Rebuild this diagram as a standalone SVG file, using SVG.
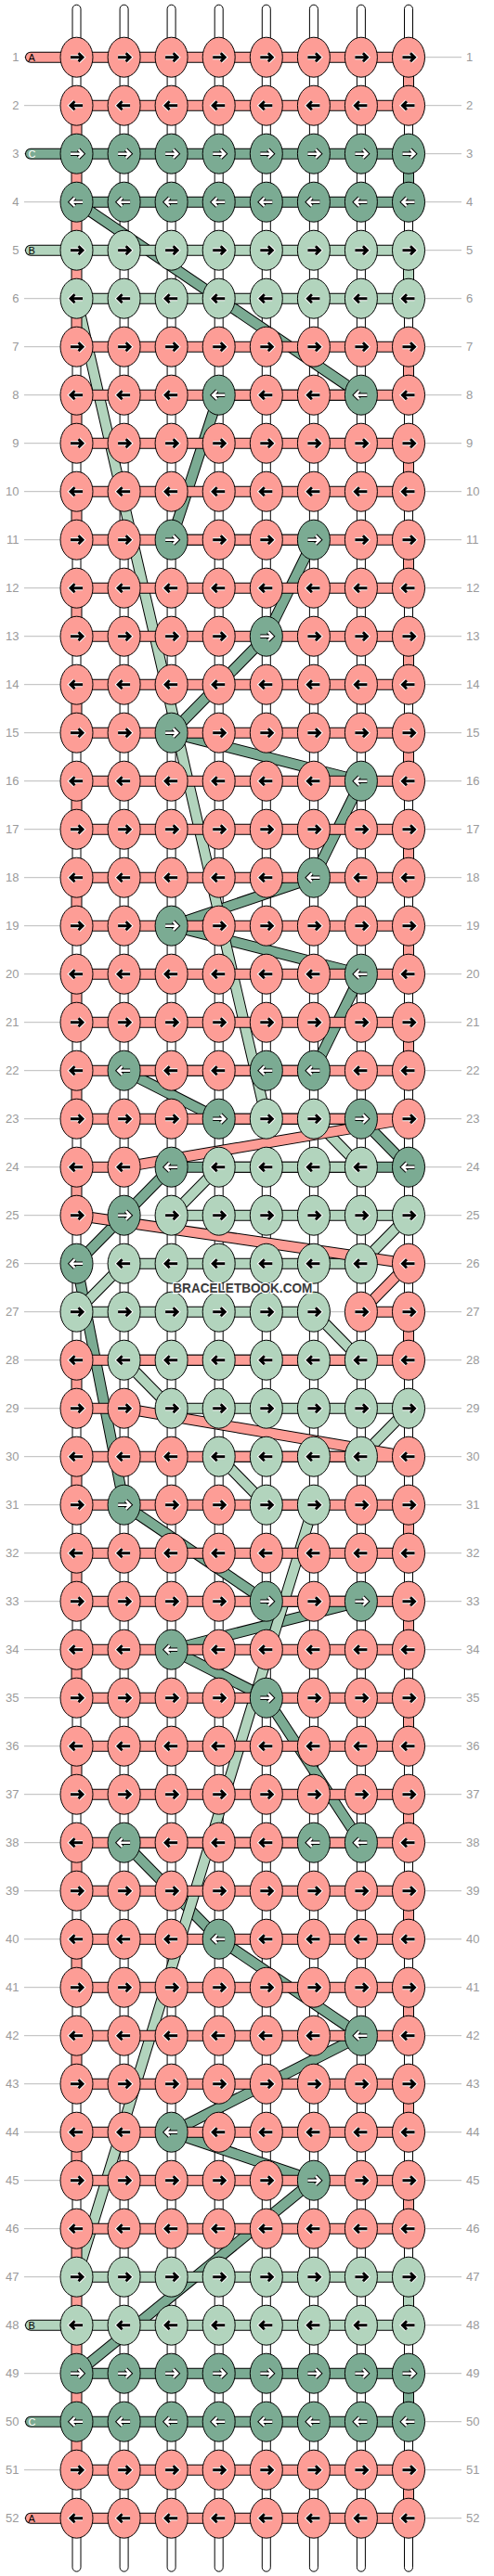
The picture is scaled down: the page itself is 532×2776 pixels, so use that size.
<svg xmlns="http://www.w3.org/2000/svg" xmlns:xlink="http://www.w3.org/1999/xlink" width="532" height="2776" viewBox="0 0 532 2776">
<style>
.gl{stroke:#bbb;stroke-width:1}
.ln{font-family:"Liberation Sans",Arial,sans-serif;font-size:13px;fill:#9a9a9a}
.lr{text-anchor:start}
.ll{text-anchor:end}
.str{fill:#fff;stroke:#000;stroke-width:1}
.o{fill:none;stroke:#000;stroke-width:12;stroke-linejoin:round;stroke-linecap:round}
.cA{fill:none;stroke:#FD9D96;stroke-width:10;stroke-linejoin:round;stroke-linecap:round}
.cB{fill:none;stroke:#B2D4BD;stroke-width:10;stroke-linejoin:round;stroke-linecap:round}
.cC{fill:none;stroke:#7BAB93;stroke-width:10;stroke-linejoin:round;stroke-linecap:round}
.pl{font-family:"Liberation Sans",Arial,sans-serif;font-size:11px}
.wm{font-family:"Liberation Sans",Arial,sans-serif;font-size:15px;font-weight:bold;fill:#3a3a3a;stroke:#fff;stroke-width:2.5;paint-order:stroke;text-anchor:middle}
</style>
<defs>
<path id="pr" d="M-6.5,0H6.5M2,-4.5L6.5,0L2,4.5" fill="none"/>
<path id="pl" d="M6.5,0H-6.5M-2,-4.5L-6.5,0L-2,4.5" fill="none"/>
<g id="sR"><ellipse rx="17.5" ry="21.5" fill="#FD9D96" stroke="#000"/><use href="#pr" stroke="#fff" stroke-width="5"/><use href="#pr" stroke="#000" stroke-width="3"/></g>
<g id="sL"><ellipse rx="17.5" ry="21.5" fill="#FD9D96" stroke="#000"/><use href="#pl" stroke="#fff" stroke-width="5"/><use href="#pl" stroke="#000" stroke-width="3"/></g>
<g id="lR"><ellipse rx="17.5" ry="21.5" fill="#B2D4BD" stroke="#000"/><use href="#pr" stroke="#fff" stroke-width="5"/><use href="#pr" stroke="#000" stroke-width="3"/></g>
<g id="lL"><ellipse rx="17.5" ry="21.5" fill="#B2D4BD" stroke="#000"/><use href="#pl" stroke="#fff" stroke-width="5"/><use href="#pl" stroke="#000" stroke-width="3"/></g>
<g id="dR"><ellipse rx="17.5" ry="21.5" fill="#7BAB93" stroke="#000"/><use href="#pr" stroke="#000" stroke-width="4.5"/><use href="#pr" stroke="#fff" stroke-width="2.5"/></g>
<g id="dL"><ellipse rx="17.5" ry="21.5" fill="#7BAB93" stroke="#000"/><use href="#pl" stroke="#000" stroke-width="4.5"/><use href="#pl" stroke="#fff" stroke-width="2.5"/></g>
<g id="gline"><line class="gl" x1="26" y1="0" x2="497" y2="0"/></g>
</defs>
<g transform="translate(0,9.7)">
<g id="guides">
<use href="#gline" y="52"/><use href="#gline" y="104"/><use href="#gline" y="156"/><use href="#gline" y="208"/><use href="#gline" y="260"/><use href="#gline" y="312"/><use href="#gline" y="364"/><use href="#gline" y="416"/><use href="#gline" y="468"/><use href="#gline" y="520"/><use href="#gline" y="572"/><use href="#gline" y="624"/><use href="#gline" y="676"/><use href="#gline" y="728"/><use href="#gline" y="780"/><use href="#gline" y="832"/><use href="#gline" y="884"/><use href="#gline" y="936"/><use href="#gline" y="988"/><use href="#gline" y="1040"/><use href="#gline" y="1092"/><use href="#gline" y="1144"/><use href="#gline" y="1196"/><use href="#gline" y="1248"/><use href="#gline" y="1300"/><use href="#gline" y="1352"/><use href="#gline" y="1404"/><use href="#gline" y="1456"/><use href="#gline" y="1508"/><use href="#gline" y="1560"/><use href="#gline" y="1612"/><use href="#gline" y="1664"/><use href="#gline" y="1716"/><use href="#gline" y="1768"/><use href="#gline" y="1820"/><use href="#gline" y="1872"/><use href="#gline" y="1924"/><use href="#gline" y="1976"/><use href="#gline" y="2028"/><use href="#gline" y="2080"/><use href="#gline" y="2132"/><use href="#gline" y="2184"/><use href="#gline" y="2236"/><use href="#gline" y="2288"/><use href="#gline" y="2340"/><use href="#gline" y="2392"/><use href="#gline" y="2444"/><use href="#gline" y="2496"/><use href="#gline" y="2548"/><use href="#gline" y="2600"/><use href="#gline" y="2652"/><use href="#gline" y="2704"/>
</g>
<g id="labels" class="ln">
<text class="ll" x="20.5" y="56.5">1</text><text class="lr" x="502" y="56.5">1</text>
<text class="ll" x="20.5" y="108.5">2</text><text class="lr" x="502" y="108.5">2</text>
<text class="ll" x="20.5" y="160.5">3</text><text class="lr" x="502" y="160.5">3</text>
<text class="ll" x="20.5" y="212.5">4</text><text class="lr" x="502" y="212.5">4</text>
<text class="ll" x="20.5" y="264.5">5</text><text class="lr" x="502" y="264.5">5</text>
<text class="ll" x="20.5" y="316.5">6</text><text class="lr" x="502" y="316.5">6</text>
<text class="ll" x="20.5" y="368.5">7</text><text class="lr" x="502" y="368.5">7</text>
<text class="ll" x="20.5" y="420.5">8</text><text class="lr" x="502" y="420.5">8</text>
<text class="ll" x="20.5" y="472.5">9</text><text class="lr" x="502" y="472.5">9</text>
<text class="ll" x="20.5" y="524.5">10</text><text class="lr" x="502" y="524.5">10</text>
<text class="ll" x="20.5" y="576.5">11</text><text class="lr" x="502" y="576.5">11</text>
<text class="ll" x="20.5" y="628.5">12</text><text class="lr" x="502" y="628.5">12</text>
<text class="ll" x="20.5" y="680.5">13</text><text class="lr" x="502" y="680.5">13</text>
<text class="ll" x="20.5" y="732.5">14</text><text class="lr" x="502" y="732.5">14</text>
<text class="ll" x="20.5" y="784.5">15</text><text class="lr" x="502" y="784.5">15</text>
<text class="ll" x="20.5" y="836.5">16</text><text class="lr" x="502" y="836.5">16</text>
<text class="ll" x="20.5" y="888.5">17</text><text class="lr" x="502" y="888.5">17</text>
<text class="ll" x="20.5" y="940.5">18</text><text class="lr" x="502" y="940.5">18</text>
<text class="ll" x="20.5" y="992.5">19</text><text class="lr" x="502" y="992.5">19</text>
<text class="ll" x="20.5" y="1044.5">20</text><text class="lr" x="502" y="1044.5">20</text>
<text class="ll" x="20.5" y="1096.5">21</text><text class="lr" x="502" y="1096.5">21</text>
<text class="ll" x="20.5" y="1148.5">22</text><text class="lr" x="502" y="1148.5">22</text>
<text class="ll" x="20.5" y="1200.5">23</text><text class="lr" x="502" y="1200.5">23</text>
<text class="ll" x="20.5" y="1252.5">24</text><text class="lr" x="502" y="1252.5">24</text>
<text class="ll" x="20.5" y="1304.5">25</text><text class="lr" x="502" y="1304.5">25</text>
<text class="ll" x="20.5" y="1356.5">26</text><text class="lr" x="502" y="1356.5">26</text>
<text class="ll" x="20.5" y="1408.5">27</text><text class="lr" x="502" y="1408.5">27</text>
<text class="ll" x="20.5" y="1460.5">28</text><text class="lr" x="502" y="1460.5">28</text>
<text class="ll" x="20.5" y="1512.5">29</text><text class="lr" x="502" y="1512.5">29</text>
<text class="ll" x="20.5" y="1564.5">30</text><text class="lr" x="502" y="1564.5">30</text>
<text class="ll" x="20.5" y="1616.5">31</text><text class="lr" x="502" y="1616.5">31</text>
<text class="ll" x="20.5" y="1668.5">32</text><text class="lr" x="502" y="1668.5">32</text>
<text class="ll" x="20.5" y="1720.5">33</text><text class="lr" x="502" y="1720.5">33</text>
<text class="ll" x="20.5" y="1772.5">34</text><text class="lr" x="502" y="1772.5">34</text>
<text class="ll" x="20.5" y="1824.5">35</text><text class="lr" x="502" y="1824.5">35</text>
<text class="ll" x="20.5" y="1876.5">36</text><text class="lr" x="502" y="1876.5">36</text>
<text class="ll" x="20.5" y="1928.5">37</text><text class="lr" x="502" y="1928.5">37</text>
<text class="ll" x="20.5" y="1980.5">38</text><text class="lr" x="502" y="1980.5">38</text>
<text class="ll" x="20.5" y="2032.5">39</text><text class="lr" x="502" y="2032.5">39</text>
<text class="ll" x="20.5" y="2084.5">40</text><text class="lr" x="502" y="2084.5">40</text>
<text class="ll" x="20.5" y="2136.5">41</text><text class="lr" x="502" y="2136.5">41</text>
<text class="ll" x="20.5" y="2188.5">42</text><text class="lr" x="502" y="2188.5">42</text>
<text class="ll" x="20.5" y="2240.5">43</text><text class="lr" x="502" y="2240.5">43</text>
<text class="ll" x="20.5" y="2292.5">44</text><text class="lr" x="502" y="2292.5">44</text>
<text class="ll" x="20.5" y="2344.5">45</text><text class="lr" x="502" y="2344.5">45</text>
<text class="ll" x="20.5" y="2396.5">46</text><text class="lr" x="502" y="2396.5">46</text>
<text class="ll" x="20.5" y="2448.5">47</text><text class="lr" x="502" y="2448.5">47</text>
<text class="ll" x="20.5" y="2500.5">48</text><text class="lr" x="502" y="2500.5">48</text>
<text class="ll" x="20.5" y="2552.5">49</text><text class="lr" x="502" y="2552.5">49</text>
<text class="ll" x="20.5" y="2604.5">50</text><text class="lr" x="502" y="2604.5">50</text>
<text class="ll" x="20.5" y="2656.5">51</text><text class="lr" x="502" y="2656.5">51</text>
<text class="ll" x="20.5" y="2708.5">52</text><text class="lr" x="502" y="2708.5">52</text>
</g>
<g id="strings">
<rect class="str" x="78" y="-4.5" width="9" height="2766" rx="4.5"/>
<rect class="str" x="129.1" y="-4.5" width="9" height="2766" rx="4.5"/>
<rect class="str" x="180.1" y="-4.5" width="9" height="2766" rx="4.5"/>
<rect class="str" x="231.2" y="-4.5" width="9" height="2766" rx="4.5"/>
<rect class="str" x="282.3" y="-4.5" width="9" height="2766" rx="4.5"/>
<rect class="str" x="333.4" y="-4.5" width="9" height="2766" rx="4.5"/>
<rect class="str" x="384.4" y="-4.5" width="9" height="2766" rx="4.5"/>
<rect class="str" x="435.5" y="-4.5" width="9" height="2766" rx="4.5"/>
</g>
<g id="connectors">
<g id="strandC">
<polyline class="o" points="33,156 440,156 440,208 82.5,208 388.9,416 235.7,416 184.6,572 337.9,572 286.8,676 184.6,780 388.9,832 337.9,936 184.6,988 388.9,1040 337.9,1144 133.6,1144 235.7,1196 388.9,1196 440,1248 184.6,1248 133.6,1300 82.5,1352 133.6,1612 286.8,1716 388.9,1716 184.6,1768 286.8,1820 388.9,1976 133.6,1976 235.7,2080 388.9,2184 184.6,2288 337.9,2340 82.5,2548 440,2548 440,2600 33,2600"/>
<polyline class="cC" points="33,156 440,156 440,208 82.5,208 388.9,416 235.7,416 184.6,572 337.9,572 286.8,676 184.6,780 388.9,832 337.9,936 184.6,988 388.9,1040 337.9,1144 133.6,1144 235.7,1196 388.9,1196 440,1248 184.6,1248 133.6,1300 82.5,1352 133.6,1612 286.8,1716 388.9,1716 184.6,1768 286.8,1820 388.9,1976 133.6,1976 235.7,2080 388.9,2184 184.6,2288 337.9,2340 82.5,2548 440,2548 440,2600 33,2600"/>
</g>
<g id="strandB">
<polyline class="o" points="33,260 440,260 440,312 82.5,312 286.8,1196 337.9,1196 388.9,1248 235.7,1248 184.6,1300 440,1300 388.9,1352 133.6,1352 82.5,1404 337.9,1404 388.9,1456 133.6,1456 184.6,1508 440,1508 388.9,1560 235.7,1560 286.8,1612 337.9,1612 82.5,2444 440,2444 440,2496 33,2496"/>
<polyline class="cB" points="33,260 440,260 440,312 82.5,312 286.8,1196 337.9,1196 388.9,1248 235.7,1248 184.6,1300 440,1300 388.9,1352 133.6,1352 82.5,1404 337.9,1404 388.9,1456 133.6,1456 184.6,1508 440,1508 388.9,1560 235.7,1560 286.8,1612 337.9,1612 82.5,2444 440,2444 440,2496 33,2496"/>
</g>
<g id="strandA">
<polyline class="o" points="33,52 440,52 440,104 82.5,104 82.5,364 440,364 440,416 82.5,416 82.5,468 440,468 440,520 82.5,520 82.5,572 440,572 440,624 82.5,624 82.5,676 440,676 440,728 82.5,728 82.5,780 440,780 440,832 82.5,832 82.5,884 440,884 440,936 82.5,936 82.5,988 440,988 440,1040 82.5,1040 82.5,1092 440,1092 440,1144 82.5,1144 82.5,1196 440,1196 133.6,1248 82.5,1248 82.5,1300 440,1352 388.9,1404 440,1404 440,1456 82.5,1456 82.5,1508 133.6,1508 440,1560 82.5,1560 82.5,1612 440,1612 440,1664 82.5,1664 82.5,1716 440,1716 440,1768 82.5,1768 82.5,1820 440,1820 440,1872 82.5,1872 82.5,1924 440,1924 440,1976 82.5,1976 82.5,2028 440,2028 440,2080 82.5,2080 82.5,2132 440,2132 440,2184 82.5,2184 82.5,2236 440,2236 440,2288 82.5,2288 82.5,2340 440,2340 440,2392 82.5,2392 82.5,2652 440,2652 440,2704 33,2704"/>
<polyline class="cA" points="33,52 440,52 440,104 82.5,104 82.5,364 440,364 440,416 82.5,416 82.5,468 440,468 440,520 82.5,520 82.5,572 440,572 440,624 82.5,624 82.5,676 440,676 440,728 82.5,728 82.5,780 440,780 440,832 82.5,832 82.5,884 440,884 440,936 82.5,936 82.5,988 440,988 440,1040 82.5,1040 82.5,1092 440,1092 440,1144 82.5,1144 82.5,1196 440,1196 133.6,1248 82.5,1248 82.5,1300 440,1352 388.9,1404 440,1404 440,1456 82.5,1456 82.5,1508 133.6,1508 440,1560 82.5,1560 82.5,1612 440,1612 440,1664 82.5,1664 82.5,1716 440,1716 440,1768 82.5,1768 82.5,1820 440,1820 440,1872 82.5,1872 82.5,1924 440,1924 440,1976 82.5,1976 82.5,2028 440,2028 440,2080 82.5,2080 82.5,2132 440,2132 440,2184 82.5,2184 82.5,2236 440,2236 440,2288 82.5,2288 82.5,2340 440,2340 440,2392 82.5,2392 82.5,2652 440,2652 440,2704 33,2704"/>
</g>
</g>
<g id="pills" class="pl">
<text x="30.5" y="56">A</text>
<text x="30.5" y="160" fill="#fff">C</text>
<text x="30.5" y="264">B</text>
<text x="30.5" y="2500">B</text>
<text x="30.5" y="2604" fill="#fff">C</text>
<text x="30.5" y="2708">A</text>
</g>
<g id="knots">
<g id="row1"><use id="k1_1" href="#sR" x="82.5" y="52"/><use id="k1_2" href="#sR" x="133.6" y="52"/><use id="k1_3" href="#sR" x="184.6" y="52"/><use id="k1_4" href="#sR" x="235.7" y="52"/><use id="k1_5" href="#sR" x="286.8" y="52"/><use id="k1_6" href="#sR" x="337.9" y="52"/><use id="k1_7" href="#sR" x="388.9" y="52"/><use id="k1_8" href="#sR" x="440" y="52"/></g>
<g id="row2"><use id="k2_1" href="#sL" x="82.5" y="104"/><use id="k2_2" href="#sL" x="133.6" y="104"/><use id="k2_3" href="#sL" x="184.6" y="104"/><use id="k2_4" href="#sL" x="235.7" y="104"/><use id="k2_5" href="#sL" x="286.8" y="104"/><use id="k2_6" href="#sL" x="337.9" y="104"/><use id="k2_7" href="#sL" x="388.9" y="104"/><use id="k2_8" href="#sL" x="440" y="104"/></g>
<g id="row3"><use id="k3_1" href="#dR" x="82.5" y="156"/><use id="k3_2" href="#dR" x="133.6" y="156"/><use id="k3_3" href="#dR" x="184.6" y="156"/><use id="k3_4" href="#dR" x="235.7" y="156"/><use id="k3_5" href="#dR" x="286.8" y="156"/><use id="k3_6" href="#dR" x="337.9" y="156"/><use id="k3_7" href="#dR" x="388.9" y="156"/><use id="k3_8" href="#dR" x="440" y="156"/></g>
<g id="row4"><use id="k4_1" href="#dL" x="82.5" y="208"/><use id="k4_2" href="#dL" x="133.6" y="208"/><use id="k4_3" href="#dL" x="184.6" y="208"/><use id="k4_4" href="#dL" x="235.7" y="208"/><use id="k4_5" href="#dL" x="286.8" y="208"/><use id="k4_6" href="#dL" x="337.9" y="208"/><use id="k4_7" href="#dL" x="388.9" y="208"/><use id="k4_8" href="#dL" x="440" y="208"/></g>
<g id="row5"><use id="k5_1" href="#lR" x="82.5" y="260"/><use id="k5_2" href="#lR" x="133.6" y="260"/><use id="k5_3" href="#lR" x="184.6" y="260"/><use id="k5_4" href="#lR" x="235.7" y="260"/><use id="k5_5" href="#lR" x="286.8" y="260"/><use id="k5_6" href="#lR" x="337.9" y="260"/><use id="k5_7" href="#lR" x="388.9" y="260"/><use id="k5_8" href="#lR" x="440" y="260"/></g>
<g id="row6"><use id="k6_1" href="#lL" x="82.5" y="312"/><use id="k6_2" href="#lL" x="133.6" y="312"/><use id="k6_3" href="#lL" x="184.6" y="312"/><use id="k6_4" href="#lL" x="235.7" y="312"/><use id="k6_5" href="#lL" x="286.8" y="312"/><use id="k6_6" href="#lL" x="337.9" y="312"/><use id="k6_7" href="#lL" x="388.9" y="312"/><use id="k6_8" href="#lL" x="440" y="312"/></g>
<g id="row7"><use id="k7_1" href="#sR" x="82.5" y="364"/><use id="k7_2" href="#sR" x="133.6" y="364"/><use id="k7_3" href="#sR" x="184.6" y="364"/><use id="k7_4" href="#sR" x="235.7" y="364"/><use id="k7_5" href="#sR" x="286.8" y="364"/><use id="k7_6" href="#sR" x="337.9" y="364"/><use id="k7_7" href="#sR" x="388.9" y="364"/><use id="k7_8" href="#sR" x="440" y="364"/></g>
<g id="row8"><use id="k8_1" href="#sL" x="82.5" y="416"/><use id="k8_2" href="#sL" x="133.6" y="416"/><use id="k8_3" href="#sL" x="184.6" y="416"/><use id="k8_4" href="#dL" x="235.7" y="416"/><use id="k8_5" href="#sL" x="286.8" y="416"/><use id="k8_6" href="#sL" x="337.9" y="416"/><use id="k8_7" href="#dL" x="388.9" y="416"/><use id="k8_8" href="#sL" x="440" y="416"/></g>
<g id="row9"><use id="k9_1" href="#sR" x="82.5" y="468"/><use id="k9_2" href="#sR" x="133.6" y="468"/><use id="k9_3" href="#sR" x="184.6" y="468"/><use id="k9_4" href="#sR" x="235.7" y="468"/><use id="k9_5" href="#sR" x="286.8" y="468"/><use id="k9_6" href="#sR" x="337.9" y="468"/><use id="k9_7" href="#sR" x="388.9" y="468"/><use id="k9_8" href="#sR" x="440" y="468"/></g>
<g id="row10"><use id="k10_1" href="#sL" x="82.5" y="520"/><use id="k10_2" href="#sL" x="133.6" y="520"/><use id="k10_3" href="#sL" x="184.6" y="520"/><use id="k10_4" href="#sL" x="235.7" y="520"/><use id="k10_5" href="#sL" x="286.8" y="520"/><use id="k10_6" href="#sL" x="337.9" y="520"/><use id="k10_7" href="#sL" x="388.9" y="520"/><use id="k10_8" href="#sL" x="440" y="520"/></g>
<g id="row11"><use id="k11_1" href="#sR" x="82.5" y="572"/><use id="k11_2" href="#sR" x="133.6" y="572"/><use id="k11_3" href="#dR" x="184.6" y="572"/><use id="k11_4" href="#sR" x="235.7" y="572"/><use id="k11_5" href="#sR" x="286.8" y="572"/><use id="k11_6" href="#dR" x="337.9" y="572"/><use id="k11_7" href="#sR" x="388.9" y="572"/><use id="k11_8" href="#sR" x="440" y="572"/></g>
<g id="row12"><use id="k12_1" href="#sL" x="82.5" y="624"/><use id="k12_2" href="#sL" x="133.6" y="624"/><use id="k12_3" href="#sL" x="184.6" y="624"/><use id="k12_4" href="#sL" x="235.7" y="624"/><use id="k12_5" href="#sL" x="286.8" y="624"/><use id="k12_6" href="#sL" x="337.9" y="624"/><use id="k12_7" href="#sL" x="388.9" y="624"/><use id="k12_8" href="#sL" x="440" y="624"/></g>
<g id="row13"><use id="k13_1" href="#sR" x="82.5" y="676"/><use id="k13_2" href="#sR" x="133.6" y="676"/><use id="k13_3" href="#sR" x="184.6" y="676"/><use id="k13_4" href="#sR" x="235.7" y="676"/><use id="k13_5" href="#dR" x="286.8" y="676"/><use id="k13_6" href="#sR" x="337.9" y="676"/><use id="k13_7" href="#sR" x="388.9" y="676"/><use id="k13_8" href="#sR" x="440" y="676"/></g>
<g id="row14"><use id="k14_1" href="#sL" x="82.5" y="728"/><use id="k14_2" href="#sL" x="133.6" y="728"/><use id="k14_3" href="#sL" x="184.6" y="728"/><use id="k14_4" href="#sL" x="235.7" y="728"/><use id="k14_5" href="#sL" x="286.8" y="728"/><use id="k14_6" href="#sL" x="337.9" y="728"/><use id="k14_7" href="#sL" x="388.9" y="728"/><use id="k14_8" href="#sL" x="440" y="728"/></g>
<g id="row15"><use id="k15_1" href="#sR" x="82.5" y="780"/><use id="k15_2" href="#sR" x="133.6" y="780"/><use id="k15_3" href="#dR" x="184.6" y="780"/><use id="k15_4" href="#sR" x="235.7" y="780"/><use id="k15_5" href="#sR" x="286.8" y="780"/><use id="k15_6" href="#sR" x="337.9" y="780"/><use id="k15_7" href="#sR" x="388.9" y="780"/><use id="k15_8" href="#sR" x="440" y="780"/></g>
<g id="row16"><use id="k16_1" href="#sL" x="82.5" y="832"/><use id="k16_2" href="#sL" x="133.6" y="832"/><use id="k16_3" href="#sL" x="184.6" y="832"/><use id="k16_4" href="#sL" x="235.7" y="832"/><use id="k16_5" href="#sL" x="286.8" y="832"/><use id="k16_6" href="#sL" x="337.9" y="832"/><use id="k16_7" href="#dL" x="388.9" y="832"/><use id="k16_8" href="#sL" x="440" y="832"/></g>
<g id="row17"><use id="k17_1" href="#sR" x="82.5" y="884"/><use id="k17_2" href="#sR" x="133.6" y="884"/><use id="k17_3" href="#sR" x="184.6" y="884"/><use id="k17_4" href="#sR" x="235.7" y="884"/><use id="k17_5" href="#sR" x="286.8" y="884"/><use id="k17_6" href="#sR" x="337.9" y="884"/><use id="k17_7" href="#sR" x="388.9" y="884"/><use id="k17_8" href="#sR" x="440" y="884"/></g>
<g id="row18"><use id="k18_1" href="#sL" x="82.5" y="936"/><use id="k18_2" href="#sL" x="133.6" y="936"/><use id="k18_3" href="#sL" x="184.6" y="936"/><use id="k18_4" href="#sL" x="235.7" y="936"/><use id="k18_5" href="#sL" x="286.8" y="936"/><use id="k18_6" href="#dL" x="337.9" y="936"/><use id="k18_7" href="#sL" x="388.9" y="936"/><use id="k18_8" href="#sL" x="440" y="936"/></g>
<g id="row19"><use id="k19_1" href="#sR" x="82.5" y="988"/><use id="k19_2" href="#sR" x="133.6" y="988"/><use id="k19_3" href="#dR" x="184.6" y="988"/><use id="k19_4" href="#sR" x="235.7" y="988"/><use id="k19_5" href="#sR" x="286.8" y="988"/><use id="k19_6" href="#sR" x="337.9" y="988"/><use id="k19_7" href="#sR" x="388.9" y="988"/><use id="k19_8" href="#sR" x="440" y="988"/></g>
<g id="row20"><use id="k20_1" href="#sL" x="82.5" y="1040"/><use id="k20_2" href="#sL" x="133.6" y="1040"/><use id="k20_3" href="#sL" x="184.6" y="1040"/><use id="k20_4" href="#sL" x="235.7" y="1040"/><use id="k20_5" href="#sL" x="286.8" y="1040"/><use id="k20_6" href="#sL" x="337.9" y="1040"/><use id="k20_7" href="#dL" x="388.9" y="1040"/><use id="k20_8" href="#sL" x="440" y="1040"/></g>
<g id="row21"><use id="k21_1" href="#sR" x="82.5" y="1092"/><use id="k21_2" href="#sR" x="133.6" y="1092"/><use id="k21_3" href="#sR" x="184.6" y="1092"/><use id="k21_4" href="#sR" x="235.7" y="1092"/><use id="k21_5" href="#sR" x="286.8" y="1092"/><use id="k21_6" href="#sR" x="337.9" y="1092"/><use id="k21_7" href="#sR" x="388.9" y="1092"/><use id="k21_8" href="#sR" x="440" y="1092"/></g>
<g id="row22"><use id="k22_1" href="#sL" x="82.5" y="1144"/><use id="k22_2" href="#dL" x="133.6" y="1144"/><use id="k22_3" href="#sL" x="184.6" y="1144"/><use id="k22_4" href="#sL" x="235.7" y="1144"/><use id="k22_5" href="#dL" x="286.8" y="1144"/><use id="k22_6" href="#dL" x="337.9" y="1144"/><use id="k22_7" href="#sL" x="388.9" y="1144"/><use id="k22_8" href="#sL" x="440" y="1144"/></g>
<g id="row23"><use id="k23_1" href="#sR" x="82.5" y="1196"/><use id="k23_2" href="#sR" x="133.6" y="1196"/><use id="k23_3" href="#sR" x="184.6" y="1196"/><use id="k23_4" href="#dR" x="235.7" y="1196"/><use id="k23_5" href="#lR" x="286.8" y="1196"/><use id="k23_6" href="#lR" x="337.9" y="1196"/><use id="k23_7" href="#dR" x="388.9" y="1196"/><use id="k23_8" href="#sR" x="440" y="1196"/></g>
<g id="row24"><use id="k24_1" href="#sL" x="82.5" y="1248"/><use id="k24_2" href="#sL" x="133.6" y="1248"/><use id="k24_3" href="#dL" x="184.6" y="1248"/><use id="k24_4" href="#lL" x="235.7" y="1248"/><use id="k24_5" href="#lL" x="286.8" y="1248"/><use id="k24_6" href="#lL" x="337.9" y="1248"/><use id="k24_7" href="#lL" x="388.9" y="1248"/><use id="k24_8" href="#dL" x="440" y="1248"/></g>
<g id="row25"><use id="k25_1" href="#sR" x="82.5" y="1300"/><use id="k25_2" href="#dR" x="133.6" y="1300"/><use id="k25_3" href="#lR" x="184.6" y="1300"/><use id="k25_4" href="#lR" x="235.7" y="1300"/><use id="k25_5" href="#lR" x="286.8" y="1300"/><use id="k25_6" href="#lR" x="337.9" y="1300"/><use id="k25_7" href="#lR" x="388.9" y="1300"/><use id="k25_8" href="#lR" x="440" y="1300"/></g>
<g id="row26"><use id="k26_1" href="#dL" x="82.5" y="1352"/><use id="k26_2" href="#lL" x="133.6" y="1352"/><use id="k26_3" href="#lL" x="184.6" y="1352"/><use id="k26_4" href="#lL" x="235.7" y="1352"/><use id="k26_5" href="#lL" x="286.8" y="1352"/><use id="k26_6" href="#lL" x="337.9" y="1352"/><use id="k26_7" href="#lL" x="388.9" y="1352"/><use id="k26_8" href="#sL" x="440" y="1352"/></g>
<g id="row27"><use id="k27_1" href="#lR" x="82.5" y="1404"/><use id="k27_2" href="#lR" x="133.6" y="1404"/><use id="k27_3" href="#lR" x="184.6" y="1404"/><use id="k27_4" href="#lR" x="235.7" y="1404"/><use id="k27_5" href="#lR" x="286.8" y="1404"/><use id="k27_6" href="#lR" x="337.9" y="1404"/><use id="k27_7" href="#sR" x="388.9" y="1404"/><use id="k27_8" href="#sR" x="440" y="1404"/></g>
<g id="row28"><use id="k28_1" href="#sL" x="82.5" y="1456"/><use id="k28_2" href="#lL" x="133.6" y="1456"/><use id="k28_3" href="#lL" x="184.6" y="1456"/><use id="k28_4" href="#lL" x="235.7" y="1456"/><use id="k28_5" href="#lL" x="286.8" y="1456"/><use id="k28_6" href="#lL" x="337.9" y="1456"/><use id="k28_7" href="#lL" x="388.9" y="1456"/><use id="k28_8" href="#sL" x="440" y="1456"/></g>
<g id="row29"><use id="k29_1" href="#sR" x="82.5" y="1508"/><use id="k29_2" href="#sR" x="133.6" y="1508"/><use id="k29_3" href="#lR" x="184.6" y="1508"/><use id="k29_4" href="#lR" x="235.7" y="1508"/><use id="k29_5" href="#lR" x="286.8" y="1508"/><use id="k29_6" href="#lR" x="337.9" y="1508"/><use id="k29_7" href="#lR" x="388.9" y="1508"/><use id="k29_8" href="#lR" x="440" y="1508"/></g>
<g id="row30"><use id="k30_1" href="#sL" x="82.5" y="1560"/><use id="k30_2" href="#sL" x="133.6" y="1560"/><use id="k30_3" href="#sL" x="184.6" y="1560"/><use id="k30_4" href="#lL" x="235.7" y="1560"/><use id="k30_5" href="#lL" x="286.8" y="1560"/><use id="k30_6" href="#lL" x="337.9" y="1560"/><use id="k30_7" href="#lL" x="388.9" y="1560"/><use id="k30_8" href="#sL" x="440" y="1560"/></g>
<g id="row31"><use id="k31_1" href="#sR" x="82.5" y="1612"/><use id="k31_2" href="#dR" x="133.6" y="1612"/><use id="k31_3" href="#sR" x="184.6" y="1612"/><use id="k31_4" href="#sR" x="235.7" y="1612"/><use id="k31_5" href="#lR" x="286.8" y="1612"/><use id="k31_6" href="#lR" x="337.9" y="1612"/><use id="k31_7" href="#sR" x="388.9" y="1612"/><use id="k31_8" href="#sR" x="440" y="1612"/></g>
<g id="row32"><use id="k32_1" href="#sL" x="82.5" y="1664"/><use id="k32_2" href="#sL" x="133.6" y="1664"/><use id="k32_3" href="#sL" x="184.6" y="1664"/><use id="k32_4" href="#sL" x="235.7" y="1664"/><use id="k32_5" href="#sL" x="286.8" y="1664"/><use id="k32_6" href="#sL" x="337.9" y="1664"/><use id="k32_7" href="#sL" x="388.9" y="1664"/><use id="k32_8" href="#sL" x="440" y="1664"/></g>
<g id="row33"><use id="k33_1" href="#sR" x="82.5" y="1716"/><use id="k33_2" href="#sR" x="133.6" y="1716"/><use id="k33_3" href="#sR" x="184.6" y="1716"/><use id="k33_4" href="#sR" x="235.7" y="1716"/><use id="k33_5" href="#dR" x="286.8" y="1716"/><use id="k33_6" href="#sR" x="337.9" y="1716"/><use id="k33_7" href="#dR" x="388.9" y="1716"/><use id="k33_8" href="#sR" x="440" y="1716"/></g>
<g id="row34"><use id="k34_1" href="#sL" x="82.5" y="1768"/><use id="k34_2" href="#sL" x="133.6" y="1768"/><use id="k34_3" href="#dL" x="184.6" y="1768"/><use id="k34_4" href="#sL" x="235.7" y="1768"/><use id="k34_5" href="#sL" x="286.8" y="1768"/><use id="k34_6" href="#sL" x="337.9" y="1768"/><use id="k34_7" href="#sL" x="388.9" y="1768"/><use id="k34_8" href="#sL" x="440" y="1768"/></g>
<g id="row35"><use id="k35_1" href="#sR" x="82.5" y="1820"/><use id="k35_2" href="#sR" x="133.6" y="1820"/><use id="k35_3" href="#sR" x="184.6" y="1820"/><use id="k35_4" href="#sR" x="235.7" y="1820"/><use id="k35_5" href="#dR" x="286.8" y="1820"/><use id="k35_6" href="#sR" x="337.9" y="1820"/><use id="k35_7" href="#sR" x="388.9" y="1820"/><use id="k35_8" href="#sR" x="440" y="1820"/></g>
<g id="row36"><use id="k36_1" href="#sL" x="82.5" y="1872"/><use id="k36_2" href="#sL" x="133.6" y="1872"/><use id="k36_3" href="#sL" x="184.6" y="1872"/><use id="k36_4" href="#sL" x="235.7" y="1872"/><use id="k36_5" href="#sL" x="286.8" y="1872"/><use id="k36_6" href="#sL" x="337.9" y="1872"/><use id="k36_7" href="#sL" x="388.9" y="1872"/><use id="k36_8" href="#sL" x="440" y="1872"/></g>
<g id="row37"><use id="k37_1" href="#sR" x="82.5" y="1924"/><use id="k37_2" href="#sR" x="133.6" y="1924"/><use id="k37_3" href="#sR" x="184.6" y="1924"/><use id="k37_4" href="#sR" x="235.7" y="1924"/><use id="k37_5" href="#sR" x="286.8" y="1924"/><use id="k37_6" href="#sR" x="337.9" y="1924"/><use id="k37_7" href="#sR" x="388.9" y="1924"/><use id="k37_8" href="#sR" x="440" y="1924"/></g>
<g id="row38"><use id="k38_1" href="#sL" x="82.5" y="1976"/><use id="k38_2" href="#dL" x="133.6" y="1976"/><use id="k38_3" href="#sL" x="184.6" y="1976"/><use id="k38_4" href="#sL" x="235.7" y="1976"/><use id="k38_5" href="#sL" x="286.8" y="1976"/><use id="k38_6" href="#dL" x="337.9" y="1976"/><use id="k38_7" href="#dL" x="388.9" y="1976"/><use id="k38_8" href="#sL" x="440" y="1976"/></g>
<g id="row39"><use id="k39_1" href="#sR" x="82.5" y="2028"/><use id="k39_2" href="#sR" x="133.6" y="2028"/><use id="k39_3" href="#sR" x="184.6" y="2028"/><use id="k39_4" href="#sR" x="235.7" y="2028"/><use id="k39_5" href="#sR" x="286.8" y="2028"/><use id="k39_6" href="#sR" x="337.9" y="2028"/><use id="k39_7" href="#sR" x="388.9" y="2028"/><use id="k39_8" href="#sR" x="440" y="2028"/></g>
<g id="row40"><use id="k40_1" href="#sL" x="82.5" y="2080"/><use id="k40_2" href="#sL" x="133.6" y="2080"/><use id="k40_3" href="#sL" x="184.6" y="2080"/><use id="k40_4" href="#dL" x="235.7" y="2080"/><use id="k40_5" href="#sL" x="286.8" y="2080"/><use id="k40_6" href="#sL" x="337.9" y="2080"/><use id="k40_7" href="#sL" x="388.9" y="2080"/><use id="k40_8" href="#sL" x="440" y="2080"/></g>
<g id="row41"><use id="k41_1" href="#sR" x="82.5" y="2132"/><use id="k41_2" href="#sR" x="133.6" y="2132"/><use id="k41_3" href="#sR" x="184.6" y="2132"/><use id="k41_4" href="#sR" x="235.7" y="2132"/><use id="k41_5" href="#sR" x="286.8" y="2132"/><use id="k41_6" href="#sR" x="337.9" y="2132"/><use id="k41_7" href="#sR" x="388.9" y="2132"/><use id="k41_8" href="#sR" x="440" y="2132"/></g>
<g id="row42"><use id="k42_1" href="#sL" x="82.5" y="2184"/><use id="k42_2" href="#sL" x="133.6" y="2184"/><use id="k42_3" href="#sL" x="184.6" y="2184"/><use id="k42_4" href="#sL" x="235.7" y="2184"/><use id="k42_5" href="#sL" x="286.8" y="2184"/><use id="k42_6" href="#sL" x="337.9" y="2184"/><use id="k42_7" href="#dL" x="388.9" y="2184"/><use id="k42_8" href="#sL" x="440" y="2184"/></g>
<g id="row43"><use id="k43_1" href="#sR" x="82.5" y="2236"/><use id="k43_2" href="#sR" x="133.6" y="2236"/><use id="k43_3" href="#sR" x="184.6" y="2236"/><use id="k43_4" href="#sR" x="235.7" y="2236"/><use id="k43_5" href="#sR" x="286.8" y="2236"/><use id="k43_6" href="#sR" x="337.9" y="2236"/><use id="k43_7" href="#sR" x="388.9" y="2236"/><use id="k43_8" href="#sR" x="440" y="2236"/></g>
<g id="row44"><use id="k44_1" href="#sL" x="82.5" y="2288"/><use id="k44_2" href="#sL" x="133.6" y="2288"/><use id="k44_3" href="#dL" x="184.6" y="2288"/><use id="k44_4" href="#sL" x="235.7" y="2288"/><use id="k44_5" href="#sL" x="286.8" y="2288"/><use id="k44_6" href="#sL" x="337.9" y="2288"/><use id="k44_7" href="#sL" x="388.9" y="2288"/><use id="k44_8" href="#sL" x="440" y="2288"/></g>
<g id="row45"><use id="k45_1" href="#sR" x="82.5" y="2340"/><use id="k45_2" href="#sR" x="133.6" y="2340"/><use id="k45_3" href="#sR" x="184.6" y="2340"/><use id="k45_4" href="#sR" x="235.7" y="2340"/><use id="k45_5" href="#sR" x="286.8" y="2340"/><use id="k45_6" href="#dR" x="337.9" y="2340"/><use id="k45_7" href="#sR" x="388.9" y="2340"/><use id="k45_8" href="#sR" x="440" y="2340"/></g>
<g id="row46"><use id="k46_1" href="#sL" x="82.5" y="2392"/><use id="k46_2" href="#sL" x="133.6" y="2392"/><use id="k46_3" href="#sL" x="184.6" y="2392"/><use id="k46_4" href="#sL" x="235.7" y="2392"/><use id="k46_5" href="#sL" x="286.8" y="2392"/><use id="k46_6" href="#sL" x="337.9" y="2392"/><use id="k46_7" href="#sL" x="388.9" y="2392"/><use id="k46_8" href="#sL" x="440" y="2392"/></g>
<g id="row47"><use id="k47_1" href="#lR" x="82.5" y="2444"/><use id="k47_2" href="#lR" x="133.6" y="2444"/><use id="k47_3" href="#lR" x="184.6" y="2444"/><use id="k47_4" href="#lR" x="235.7" y="2444"/><use id="k47_5" href="#lR" x="286.8" y="2444"/><use id="k47_6" href="#lR" x="337.9" y="2444"/><use id="k47_7" href="#lR" x="388.9" y="2444"/><use id="k47_8" href="#lR" x="440" y="2444"/></g>
<g id="row48"><use id="k48_1" href="#lL" x="82.5" y="2496"/><use id="k48_2" href="#lL" x="133.6" y="2496"/><use id="k48_3" href="#lL" x="184.6" y="2496"/><use id="k48_4" href="#lL" x="235.7" y="2496"/><use id="k48_5" href="#lL" x="286.8" y="2496"/><use id="k48_6" href="#lL" x="337.9" y="2496"/><use id="k48_7" href="#lL" x="388.9" y="2496"/><use id="k48_8" href="#lL" x="440" y="2496"/></g>
<g id="row49"><use id="k49_1" href="#dR" x="82.5" y="2548"/><use id="k49_2" href="#dR" x="133.6" y="2548"/><use id="k49_3" href="#dR" x="184.6" y="2548"/><use id="k49_4" href="#dR" x="235.7" y="2548"/><use id="k49_5" href="#dR" x="286.8" y="2548"/><use id="k49_6" href="#dR" x="337.9" y="2548"/><use id="k49_7" href="#dR" x="388.9" y="2548"/><use id="k49_8" href="#dR" x="440" y="2548"/></g>
<g id="row50"><use id="k50_1" href="#dL" x="82.5" y="2600"/><use id="k50_2" href="#dL" x="133.6" y="2600"/><use id="k50_3" href="#dL" x="184.6" y="2600"/><use id="k50_4" href="#dL" x="235.7" y="2600"/><use id="k50_5" href="#dL" x="286.8" y="2600"/><use id="k50_6" href="#dL" x="337.9" y="2600"/><use id="k50_7" href="#dL" x="388.9" y="2600"/><use id="k50_8" href="#dL" x="440" y="2600"/></g>
<g id="row51"><use id="k51_1" href="#sR" x="82.5" y="2652"/><use id="k51_2" href="#sR" x="133.6" y="2652"/><use id="k51_3" href="#sR" x="184.6" y="2652"/><use id="k51_4" href="#sR" x="235.7" y="2652"/><use id="k51_5" href="#sR" x="286.8" y="2652"/><use id="k51_6" href="#sR" x="337.9" y="2652"/><use id="k51_7" href="#sR" x="388.9" y="2652"/><use id="k51_8" href="#sR" x="440" y="2652"/></g>
<g id="row52"><use id="k52_1" href="#sL" x="82.5" y="2704"/><use id="k52_2" href="#sL" x="133.6" y="2704"/><use id="k52_3" href="#sL" x="184.6" y="2704"/><use id="k52_4" href="#sL" x="235.7" y="2704"/><use id="k52_5" href="#sL" x="286.8" y="2704"/><use id="k52_6" href="#sL" x="337.9" y="2704"/><use id="k52_7" href="#sL" x="388.9" y="2704"/><use id="k52_8" href="#sL" x="440" y="2704"/></g>
</g>
<text class="wm" x="261.3" y="1383.5" textLength="150" lengthAdjust="spacingAndGlyphs">BRACELETBOOK.COM</text>
</g>
</svg>
